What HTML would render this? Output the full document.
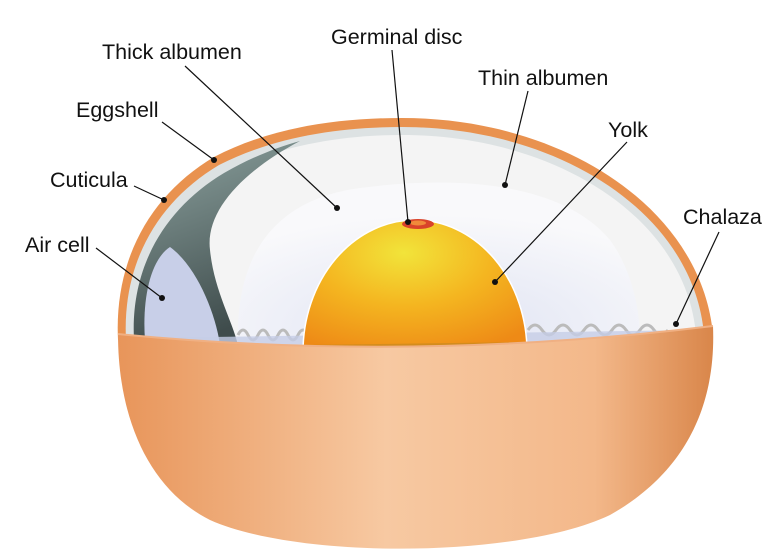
<!DOCTYPE html>
<html><head><style>
html,body{margin:0;padding:0;background:#fff;}
svg{display:block;}
text{font-family:"Liberation Sans",sans-serif;font-size:21.5px;fill:#111;}
</style></head><body>
<svg width="774" height="558" viewBox="0 0 774 558" xmlns="http://www.w3.org/2000/svg">
<defs>
<radialGradient id="yolk" cx="0.45" cy="0.25" r="0.8">
<stop offset="0" stop-color="#f2e43a"/><stop offset="0.5" stop-color="#f4b520"/><stop offset="1" stop-color="#ee8a16"/>
</radialGradient>
<linearGradient id="bowl" x1="0" y1="0" x2="1" y2="0">
<stop offset="0" stop-color="#e8955a"/><stop offset="0.45" stop-color="#f7c9a2"/><stop offset="0.8" stop-color="#f3b88a"/><stop offset="1" stop-color="#d9864a"/>
</linearGradient>
<linearGradient id="dark" x1="0" y1="0" x2="0.3" y2="1">
<stop offset="0" stop-color="#8fa5a2"/><stop offset="1" stop-color="#3f4c4c"/>
</linearGradient>
<radialGradient id="alb" cx="0.5" cy="0.9" r="0.7">
<stop offset="0" stop-color="#dfe3f3"/><stop offset="1" stop-color="#f9f9fb"/>
</radialGradient>
</defs>
<!-- outer shell -->
<path d="M118,340 C114,260 150,195 214,157 C270,128 335,118 402,118 C565,118 702,210 713,335 Z" fill="#e9924f"/>
<path d="M126,340 C122,264 157,202 219,165 C274,137 338,127 402,127 C560,127 694,214 704,335 Z" fill="#dde2e3"/>
<path d="M134,340 C130,268 164,209 224,173 C278,146 340,135 402,135 C556,135 686,218 696,335 Z" fill="#f4f4f4"/>
<!-- dark region left -->
<path d="M134,340 C130,268 164,209 224,173 C250,158 275,148 300,141 C245,170 205,210 210,250 C214,290 232,320 238,345 Z" fill="url(#dark)"/>
<!-- air cell -->
<path d="M145,340 C142,300 150,260 170,247 C195,265 215,310 220,345 Z" fill="#c8cfe8"/>
<!-- thick albumen -->
<path d="M238,345 C235,260 270,200 360,188 C450,176 560,180 610,240 C632,270 640,310 640,340 Z" fill="url(#alb)"/>
<!-- wavy chalaza -->
<path d="M238,335 q5,-10 10,0 t10,0 t10,0 t10,0 t10,0 t10,0 t10,0" fill="none" stroke="#bbb" stroke-width="3"/>
<path d="M528,330 q7,-10 14,0 t14,0 t14,0 t14,0 t14,0 t14,0 t14,0 t14,0 t14,0 t14,0" fill="none" stroke="#bbb" stroke-width="3"/>
<path d="M140,338 L700,330 L700,345 L140,355 Z" fill="#c5cde6" opacity="0.8"/>
<!-- yolk -->
<path d="M303,352 A112,132 0 0 1 527,352 Z" fill="url(#yolk)" stroke="#fff" stroke-width="1.5"/>
<ellipse cx="418" cy="224" rx="16" ry="5" fill="#d9432a"/>
<ellipse cx="418" cy="223" rx="8" ry="2.5" fill="#f08a3a"/>
<path d="M303,345 L527,342 L527,356 L303,358 Z" fill="#c8891f" opacity="0.7"/>
<!-- bottom bowl -->
<path d="M118,334 C300,352 500,352 713,326 C716,400 690,470 610,515 C520,558 300,560 210,520 C150,490 118,420 118,334 Z" fill="url(#bowl)"/>
<path d="M118,334 C300,352 500,352 713,326" fill="none" stroke="#f0b083" stroke-width="2"/>
<!-- leader lines -->
<g stroke="#111" stroke-width="1.2" fill="none">
<line x1="185" y1="66" x2="337" y2="208"/>
<line x1="392" y1="50" x2="408" y2="222"/>
<line x1="528" y1="91" x2="505" y2="185"/>
<line x1="627" y1="142" x2="495" y2="282"/>
<line x1="162" y1="122" x2="214" y2="160"/>
<line x1="134" y1="186" x2="164" y2="200"/>
<line x1="719" y1="232" x2="676" y2="324"/>
<line x1="96" y1="248" x2="162" y2="298"/>
</g>
<g fill="#111">
<circle cx="337" cy="208" r="3"/><circle cx="408" cy="222" r="3"/><circle cx="505" cy="185" r="3"/>
<circle cx="495" cy="282" r="3"/><circle cx="214" cy="160" r="3"/><circle cx="164" cy="200" r="3"/>
<circle cx="676" cy="324" r="3"/><circle cx="162" cy="298" r="3"/>
</g>
<text x="102" y="59">Thick albumen</text>
<text x="331" y="44">Germinal disc</text>
<text x="478" y="85">Thin albumen</text>
<text x="608" y="137">Yolk</text>
<text x="76" y="117">Eggshell</text>
<text x="50" y="187">Cuticula</text>
<text x="683" y="224">Chalaza</text>
<text x="25" y="252">Air cell</text>
</svg>
</body></html>
